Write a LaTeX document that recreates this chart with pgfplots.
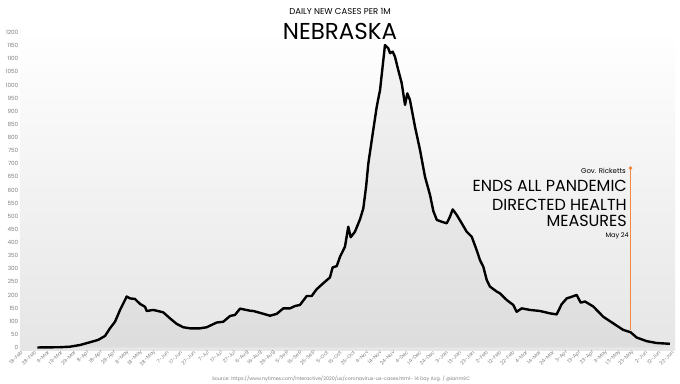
\documentclass[border=0pt]{standalone}
\usepackage{fontspec}
\setmainfont{Poppins}
\usepackage{pgfplots}
\pgfplotsset{compat=1.18}
\definecolor{tickgray}{HTML}{808080}
\definecolor{annot}{HTML}{F0883E}

\pgfplotstableread{
day value
11.5 0
21 0.5
28.6 1
36.1 3
43.7 9.5
51.2 20
57.4 29
62.5 44
66.2 73
70 98
73.8 143
78.8 194
81.3 187
85 185
88.8 166
92.6 155
93.9 139
98.8 143
106.3 134
111.4 111
116.4 90
121.4 77
126.5 73
134 73
139 77
146.5 95
151.5 98
156.6 120
160.3 124
164.1 148
171.6 140
174.1 139
179.1 132
186.7 121
191.7 128
196.7 149
201.7 149
205.5 158
209.2 162
214.3 196
218 196
221.8 222
226.8 245
231.8 267
233.8 305
236.9 310
239.4 346
243.1 384
245.6 460
247.4 420
250.6 441
254.4 488
256.9 530
259 613
260.7 702
264.4 829
267 917
269.5 981
273.2 1152
275.7 1140
277 1121
279 1127
280.7 1108
283.2 1057
285.8 1007
288.3 924
290 968
292 943
295.8 841
299.6 752
303.3 651
307.1 581
309.6 520
312.2 486
315.9 479
319.7 473
322.1 498
324.2 526
327.2 505
331 473
334.7 441
338.5 422
342.2 371
344.7 333
347.2 308
349.8 257
352.2 232
357.3 213
359.8 206
364.8 181
369.8 162
372.3 136
376.1 149
382.4 143
389.9 139
397.4 130
402.4 126
406.2 165
410 187
412.5 191
417.5 200
420.5 171
423.8 175
430 156
437.5 117
445 92
452.5 67
458.1 58
462.6 38
470.2 24
477.7 17
487.7 14
}\avgdata

\begin{document}
\begin{tikzpicture}[x=1pt,y=1pt]
\path[use as bounding box, fill=white] (0,0) rectangle (680,383);
\begin{axis}[
  at={(20pt,32.9pt)}, anchor=south west,
  scale only axis, width=655pt, height=320.25pt,
  xmin=-1.5, xmax=491.5, ymin=-10, ymax=1210,
  axis line style={draw=none}, major tick style={draw=none},
  axis background/.style={shade, top color=white, bottom color=black!10},
  ytick={0,50,...,1200},
  scaled y ticks=false,
  /pgf/number format/1000 sep={},
  /pgf/number format/assume math mode=true,
  yticklabel style={font=\fontsize{5.7}{6}\selectfont, text=tickgray, inner sep=1.5pt},
  xtick={0,10,...,490},
  xticklabels={18-Feb,28-Feb,9-Mar,19-Mar,29-Mar,8-Apr,18-Apr,28-Apr,8-May,18-May,28-May,7-Jun,17-Jun,27-Jun,7-Jul,17-Jul,27-Jul,6-Aug,16-Aug,26-Aug,5-Sep,15-Sep,25-Sep,5-Oct,15-Oct,25-Oct,4-Nov,14-Nov,24-Nov,4-Dec,14-Dec,24-Dec,3-Jan,13-Jan,23-Jan,2-Feb,12-Feb,22-Feb,4-Mar,14-Mar,24-Mar,3-Apr,13-Apr,23-Apr,3-May,13-May,23-May,2-Jun,12-Jun,22-Jun},
  xticklabel style={font=\fontsize{5}{6}\selectfont, text=tickgray, rotate=45, anchor=east, inner sep=1pt, yshift=-1pt},
  clip=false,
]
\addplot[draw=none, fill=black, fill opacity=0.035] table[x=day, y=value] {\avgdata} \closedcycle;
\addplot[black, line width=2.4pt, line join=round] table[x=day, y=value] {\avgdata};
\addplot[annot, line width=1.1pt, mark=*, mark size=1.2pt, mark repeat=2, mark phase=2] coordinates {(458,67) (458,683)};
\end{axis}
\node[font=\fontsize{8.5}{10}\selectfont] at (340,372) {DAILY NEW CASES PER 1M};
\node[font=\fontsize{23}{26}\selectfont] at (340,351.5) {NEBRASKA};
\node[anchor=east, font=\fontsize{7}{8}\selectfont, inner sep=0pt] at (626,212) {Gov. Ricketts};
\node[anchor=east, font=\fontsize{16}{18}\selectfont, inner sep=0pt] at (627,197) {ENDS ALL PANDEMIC};
\node[anchor=east, font=\fontsize{16}{18}\selectfont, inner sep=0pt] at (627,178.5) {DIRECTED HEALTH};
\node[anchor=east, font=\fontsize{16}{18}\selectfont, inner sep=0pt] at (627,162) {MEASURES};
\node[anchor=east, font=\fontsize{6.5}{8}\selectfont, inner sep=0pt] at (629,147.5) {May 24};
\node[font=\fontsize{4.8}{6}\selectfont, text=tickgray] at (341,4.5) {Source: https://www.nytimes.com/interactive/2020/us/coronavirus-us-cases.html- 14 Day Avg. / @ianmSC};
\end{tikzpicture}
\end{document}
